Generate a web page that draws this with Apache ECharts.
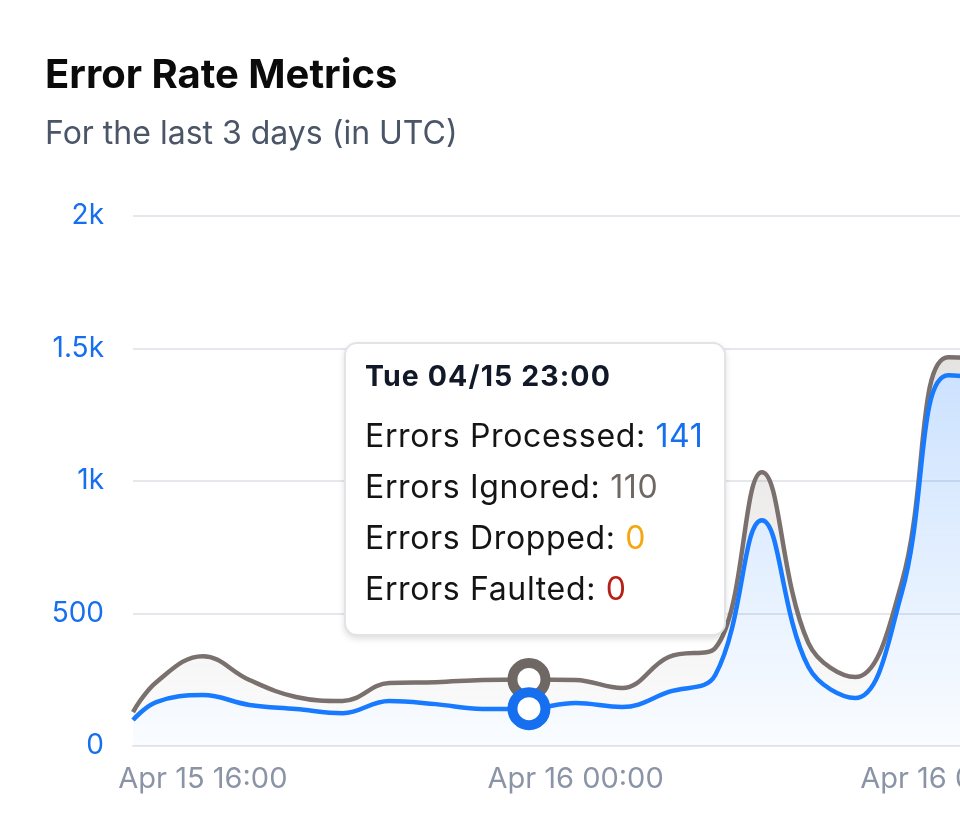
<!DOCTYPE html>
<html><head><meta charset="utf-8">
<script src="https://cdn.jsdelivr.net/npm/echarts@6/dist/echarts.min.js"></script>
<style>
html,body{margin:0;padding:0;overflow:hidden;background:#fff;width:960px;height:840px}
#chart{width:1300px;height:840px}
</style></head>
<body><div id="chart"></div>
<script>
// ---- data ----
const times = [
  '2025-04-15T14:30:00Z','2025-04-15T15:00:00Z','2025-04-15T16:00:00Z','2025-04-15T17:00:00Z',
  '2025-04-15T18:00:00Z','2025-04-15T19:00:00Z','2025-04-15T20:00:00Z','2025-04-15T21:00:00Z',
  '2025-04-15T22:00:00Z','2025-04-15T23:00:00Z','2025-04-16T00:00:00Z','2025-04-16T01:00:00Z',
  '2025-04-16T02:00:00Z','2025-04-16T03:00:00Z','2025-04-16T04:00:00Z','2025-04-16T05:00:00Z',
  '2025-04-16T06:00:00Z','2025-04-16T07:00:00Z','2025-04-16T08:00:00Z','2025-04-16T09:00:00Z'
];
const processedValues = [98,166,192,155,140,124,170,158,140,141,162,147,204,268,852,298,181,577,1399,1385];
const ignoredValues   = [30,75,147,94,45,46,68,83,109,110,87,72,132,102,181,90,79,38,68,75];
const droppedValues   = [0,0,0,0,0,0,0,0,0,0,0,0,0,0,0,0,0,0,0,0];
const faultedValues   = [0,0,0,0,0,0,0,0,0,0,0,0,0,0,0,0,0,0,0,0];
const xTickValues = ['2025-04-15T16:00:00Z','2025-04-16T00:00:00Z','2025-04-16T08:00:00Z'];
const yTickLabels = ['0','500','1k','1.5k','2k'];
const seriesNames = ['Errors Processed','Errors Ignored','Errors Dropped','Errors Faulted'];
const hoverIndex = 9;

// ---- style ----
const BLUE = '#156fee', GRAY = '#6f6764', ORANGE = '#f5a70f', RED = '#b81f16';
const FONT = 'Inter, "Noto Sans", sans-serif';
const MONTHS = ['Jan','Feb','Mar','Apr','May','Jun','Jul','Aug','Sep','Oct','Nov','Dec'];
const DAYS = ['Sun','Mon','Tue','Wed','Thu','Fri','Sat'];
const p2 = n => String(n).padStart(2,'0');

const ts = times.map(t => Date.parse(t));
// value first, time second: the count column is the stacked one
const pairs = arr => arr.map((v,i) => [v, ts[i]]);
const ENC = { x: 1, y: 0 };

function lineSeries(name, values, color, z, areaTop, areaBottom) {
  return {
    name, type: 'line', stack: 'errors', z,
    encode: ENC,
    data: pairs(values), smooth: 0.4, showSymbol: false,
    symbol: 'circle', symbolSize: 33,
    itemStyle: { color: '#ffffff', borderColor: color, borderWidth: 10 },
    lineStyle: { color, width: 4.5 },
    areaStyle: { color: new echarts.graphic.LinearGradient(0,0,0,1,[
      { offset: 0, color: areaTop }, { offset: 1, color: areaBottom }]) },
    emphasis: { scale: false, focus: 'none',
      itemStyle: { color: '#ffffff', borderColor: color, borderWidth: 10 },
      lineStyle: { width: 4.5 } }
  };
}
function hiddenSeries(name, values, color) {
  return {
    name, type: 'line', stack: 'errors', z: 1, silent: true,
    encode: ENC,
    data: pairs(values), symbol: 'none', showSymbol: false,
    lineStyle: { color, width: 0, opacity: 0 }, itemStyle: { color }
  };
}

const chart = echarts.init(document.getElementById('chart'));
chart.setOption({
  animation: false,
  textStyle: { fontFamily: FONT },
  title: {
    left: 40, top: 51,
    text: 'Error Rate Metrics',
    subtext: 'For the last 3 days (in UTC)',
    itemGap: 22,
    textStyle: { fontFamily: FONT, fontSize: 40, fontWeight: 'bold', color: '#0b0b0b' },
    subtextStyle: { fontFamily: FONT, fontSize: 32, color: '#4a5568' }
  },
  grid: { left: 133, right: 49, top: 216, bottom: 94, outerBoundsMode: 'none' },
  xAxis: {
    type: 'value',
    min: Date.parse('2025-04-15T14:30:00Z'),
    max: Date.parse('2025-04-16T14:30:00Z'),
    axisLine: { show: true, lineStyle: { color: '#e4e7ec', width: 2 } },
    axisTick: { show: false },
    splitLine: { show: false },
    axisLabel: {
      customValues: xTickValues.map(t => Date.parse(t)),
      margin: 19,
      fontSize: 29, color: '#8a94a6', fontFamily: FONT,
      formatter: v => { const d = new Date(v); return MONTHS[d.getUTCMonth()] + ' ' + d.getUTCDate() + ' ' + p2(d.getUTCHours()) + ':' + p2(d.getUTCMinutes()); }
    }
  },
  yAxis: {
    type: 'value', min: 0, max: 2000, interval: 500,
    axisLine: { show: false }, axisTick: { show: false },
    splitLine: { lineStyle: { color: '#e4e7ec', width: 2 } },
    axisLabel: {
      margin: 29, fontSize: 28, color: BLUE, fontFamily: FONT,
      formatter: v => yTickLabels[Math.round(v / 500)]
    }
  },
  tooltip: {
    trigger: 'axis',
    triggerOn: 'none',
    alwaysShowContent: true,
    transitionDuration: 0,
    axisPointer: { type: 'line', lineStyle: { color: 'rgba(0,0,0,0)' } },
    padding: 0,
    backgroundColor: '#ffffff',
    borderColor: '#e1e3e7',
    borderWidth: 2,
    extraCssText: 'border-radius:13px;box-shadow:0 3px 6px rgba(0,0,0,0.13);',
    position: () => [344, 342],
    formatter: params => {
      const i = params[0].dataIndex;
      const d = new Date(ts[i]);
      const title = DAYS[d.getUTCDay()] + ' ' + p2(d.getUTCMonth()+1) + '/' + p2(d.getUTCDate()) + ' ' + p2(d.getUTCHours()) + ':' + p2(d.getUTCMinutes());
      const vals = [processedValues[i], ignoredValues[i], droppedValues[i], faultedValues[i]];
      const cols = [BLUE, GRAY, ORANGE, RED];
      let h = '<div style="box-sizing:border-box;width:378px;height:290px;padding:15px 10px 0 19px;font-family:Inter,sans-serif;white-space:nowrap;">';
      h += '<div style="font-size:28.5px;font-weight:700;color:#111827;line-height:34px;letter-spacing:1.1px;">' + title + '</div>';
      h += '<div style="margin-top:17px;">';
      for (let k = 0; k < 4; k++) {
        h += '<div style="font-size:32px;line-height:51px;color:#141414;letter-spacing:0.65px;">' + seriesNames[k] + ': <span style="color:' + cols[k] + ';">' + vals[k] + '</span></div>';
      }
      h += '</div></div>';
      return h;
    }
  },
  series: [
    lineSeries(seriesNames[0], processedValues, BLUE, 4, 'rgba(21,111,238,0.31)', 'rgba(21,111,238,0.03)'),
    lineSeries(seriesNames[1], ignoredValues, GRAY, 3, 'rgba(120,112,109,0.30)', 'rgba(120,112,109,0.05)'),
    hiddenSeries(seriesNames[2], droppedValues, ORANGE),
    hiddenSeries(seriesNames[3], faultedValues, RED)
  ]
});
chart.dispatchAction({ type: 'showTip', seriesIndex: 0, dataIndex: hoverIndex });
</script>
</body></html>
